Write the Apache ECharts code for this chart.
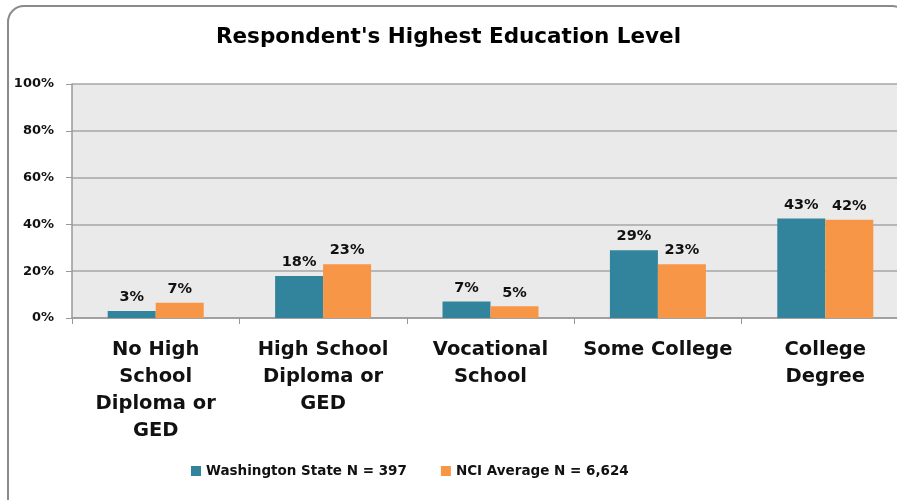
<!DOCTYPE html>
<html>
<head>
<meta charset="utf-8">
<script src="https://cdn.jsdelivr.net/npm/echarts@6/dist/echarts.min.js"></script>
<style>
  html, body { margin: 0; padding: 0; background: #fff; }
  #chart { width: 897px; height: 500px; }
</style>
</head>
<body>
<div id="chart"></div>
<script>
// data
const categories = ['No High\nSchool\nDiploma or\nGED', 'High School\nDiploma or\nGED', 'Vocational\nSchool', 'Some College', 'College\nDegree'];
const washington = [3, 18, 7, 29, 42.5];
const nciAverage = [6.5, 23, 5, 23, 42];
const washingtonLabels = ['3%', '18%', '7%', '29%', '43%'];
const nciLabels = ['7%', '23%', '5%', '23%', '42%'];

const FONT = 'DejaVu Sans';
const myChart = echarts.init(document.getElementById('chart'));

const labelStyle = (texts) => ({
  show: true,
  position: 'top',
  distance: 6,
  fontFamily: FONT,
  fontWeight: 'bold',
  fontSize: 14.5,
  color: '#111',
  formatter: (p) => texts[p.dataIndex],
});

const option = {
  animation: false,
  textStyle: { fontFamily: FONT },
  title: {
    text: "Respondent's Highest Education Level",
    left: 'center',
    top: 21,
    textStyle: { fontFamily: FONT, fontWeight: 'bold', fontSize: 21.5, color: '#000' },
  },
  graphic: [
    {
      type: 'rect',
      shape: { x: 8, y: 6, width: 900, height: 510, r: 16 },
      style: { fill: 'none', stroke: '#8a8a8a', lineWidth: 2 },
      z: 0,
    },
  ],
  grid: {
    left: 72,
    top: 84,
    width: 837,
    height: 234,
    show: true,
    backgroundColor: '#eaeaea',
    borderWidth: 0,
    outerBoundsMode: 'none',
    containLabel: false,
  },
  legend: {
    bottom: 17,
    left: 186,
    itemWidth: 10,
    itemHeight: 10,
    itemGap: 34,
    icon: 'rect',
    textStyle: { fontFamily: FONT, fontWeight: 'bold', fontSize: 13.5, color: '#111' },
    data: ['Washington State N = 397', 'NCI Average N = 6,624'],
  },
  xAxis: {
    type: 'category',
    data: categories,
    axisLine: { show: true, lineStyle: { color: '#999', width: 1.5 } },
    axisTick: { show: true, length: 6, lineStyle: { color: '#999' } },
    axisLabel: {
      interval: 0,
      margin: 18,
      fontFamily: FONT,
      fontWeight: 'bold',
      fontSize: 19.5,
      lineHeight: 27,
      color: '#111',
    },
  },
  yAxis: {
    type: 'value',
    min: 0,
    max: 100,
    interval: 20,
    axisLine: { show: true, lineStyle: { color: '#999', width: 1.5 } },
    axisTick: { show: true, length: 6, lineStyle: { color: '#999' } },
    splitLine: { show: true, lineStyle: { color: '#a6a6a6', width: 1.5 } },
    axisLabel: {
      margin: 18,
      formatter: '{value}%',
      fontFamily: FONT,
      fontWeight: 'bold',
      fontSize: 13,
      color: '#111',
    },
  },
  series: [
    {
      name: 'Washington State N = 397',
      type: 'bar',
      data: washington,
      barWidth: 48,
      barGap: '0%',
      itemStyle: { color: '#31849b' },
      label: labelStyle(washingtonLabels),
    },
    {
      name: 'NCI Average N = 6,624',
      type: 'bar',
      data: nciAverage,
      barWidth: 48,
      itemStyle: { color: '#f79646' },
      label: labelStyle(nciLabels),
    },
  ],
};
myChart.setOption(option);
</script>
</body>
</html>
